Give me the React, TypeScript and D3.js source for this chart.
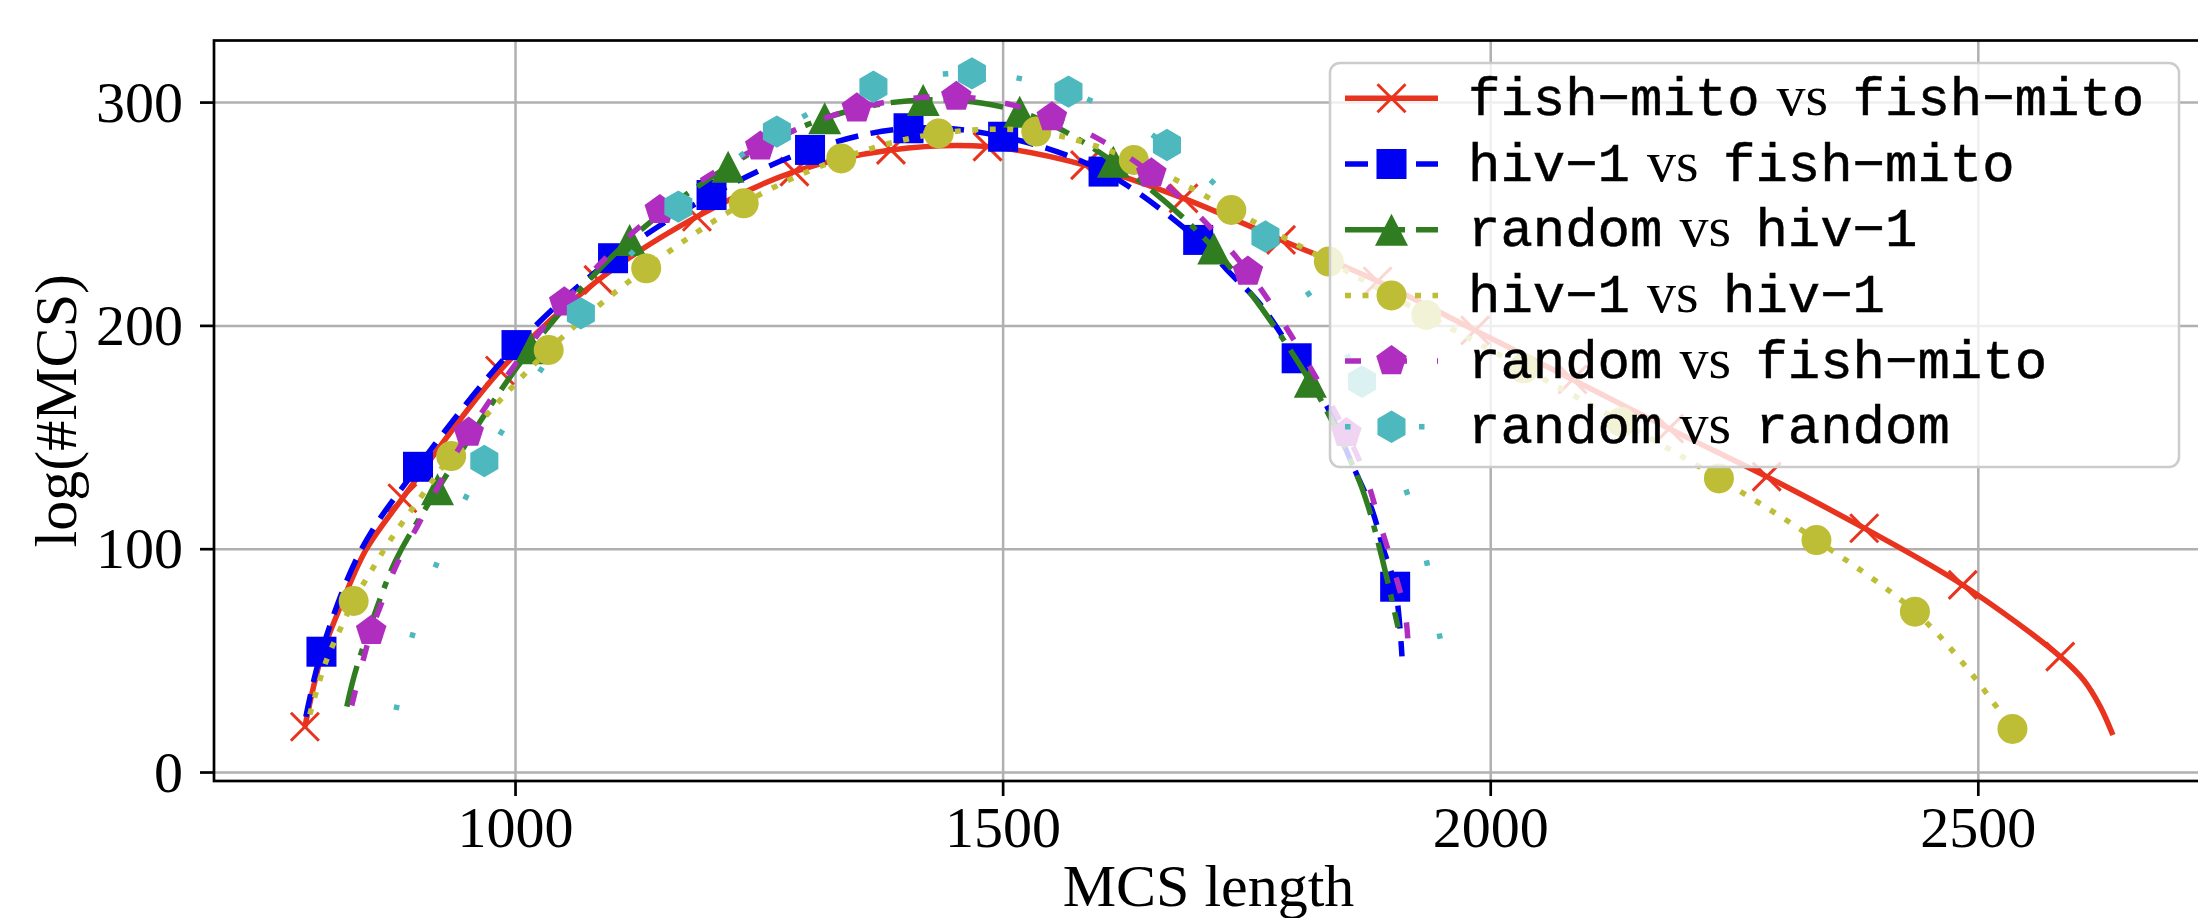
import React from 'react';
import * as d3 from 'd3';

const W = 2198;
const H = 918;

const xTicks = [1000, 1500, 2000, 2500];
const yTicks = [0, 100, 200, 300];

// fish-mito vs fish-mito
const fmfmMarkX = [784, 884, 984, 1085, 1186, 1286, 1385, 1484, 1584, 1685, 1785, 1884, 1984, 2084, 2183, 2283, 2383, 2484, 2584];
const fmfmMarkY = [20.5, 122.8, 180, 220.6, 248.9, 269.1, 278.8, 280.3, 272, 257.1, 238.5, 220, 198, 176, 154, 132.5, 109.4, 84, 51.9];
const fmfmLineX = [801, 823, 847, 2608, 2625, 2638];
const fmfmLineY = [52, 77, 100, 41.4, 29.5, 16.8];

// hiv-1 vs fish-mito
const hvfmMarkX = [801, 900, 1001, 1100, 1201, 1302, 1403, 1500, 1603, 1700, 1801, 1902];
const hvfmMarkY = [54.1, 136.9, 191.4, 230.3, 258.6, 278.8, 288.5, 284.7, 269.1, 238.5, 185.5, 83.2];
const hvfmLineX = [785, 842, 1733, 1763, 1832, 1858, 1878, 1890, 1909];
const hvfmLineY = [25, 100, 223.5, 210, 164, 138, 118, 100, 52];

// random vs hiv-1
const rvhvMarkX = [920, 1016, 1117, 1218, 1317, 1418, 1517, 1613, 1716, 1815];
const rvhvMarkY = [126.8, 190, 238.5, 271.3, 293, 301.2, 295.9, 273.5, 234.7, 175];
const rvhvLineX = [827, 837, 871, 883, 1859, 1873, 1888, 1905];
const rvhvLineY = [29.5, 47, 89, 100, 137, 121, 97, 65];

// hiv-1 vs hiv-1
const hvhvMarkX = [834, 934, 1034, 1134, 1234, 1334, 1434, 1534, 1634, 1734, 1834, 1934, 2034, 2134, 2234, 2334, 2435, 2535];
const hvhvMarkY = [76.8, 141.7, 189.2, 225.8, 254.9, 275, 286.2, 287, 274.3, 251.9, 228.8, 204.9, 181, 157, 131.7, 104.1, 72, 19.5];
const hvhvLineX = [789, 805, 820, 853, 873, 904, 2488];
const hvhvLineY = [26, 49, 64, 91, 105, 124, 47];

// random vs fish-mito
const rvfmMarkX = [852, 952, 1050, 1148, 1251, 1350, 1452, 1550, 1652, 1751, 1852];
const rvfmMarkY = [63.4, 152.2, 210.5, 251.9, 280.3, 297.4, 302.6, 293.4, 268.3, 224.3, 152];
const rvfmLineX = [832, 861, 878, 899, 1873, 1886, 1900, 1912, 1915];
const rvfmLineY = [30, 74, 93, 110, 131, 112, 92, 72, 60];

// random vs random
const rvrvMarkX = [968, 1067, 1167, 1268, 1367, 1468, 1567, 1668, 1769, 1868];
const rvrvMarkY = [139.5, 205.6, 253.4, 287, 307.1, 313.1, 304.9, 281, 240, 175];
const rvrvLineX = [877.5, 893.6, 917.5, 947.5, 1910, 1932, 1945, 1950];
const rvrvLineY = [28, 60.4, 91.7, 121.7, 130.5, 99, 67, 56];

const legendNames = [
  ['fish−mito', 'fish−mito'],
  ['hiv−1', 'fish−mito'],
  ['random', 'hiv−1'],
  ['hiv−1', 'hiv−1'],
  ['random', 'fish−mito'],
  ['random', 'random'],
];

type Marker = 'x' | 's' | '^' | 'o' | 'p' | 'h';

const series = [
  { color: '#e8331f', dash: undefined, marker: 'x', mx: fmfmMarkX, my: fmfmMarkY, lx: fmfmLineX, ly: fmfmLineY },
  { color: '#0000f2', dash: '23 12.5', marker: 's', mx: hvfmMarkX, my: hvfmMarkY, lx: hvfmLineX, ly: hvfmLineY },
  { color: '#2f7d20', dash: '42 11 7 11', marker: '^', mx: rvhvMarkX, my: rvhvMarkY, lx: rvhvLineX, ly: rvhvLineY },
  { color: '#bdbd36', dash: '6 11.5', marker: 'o', mx: hvhvMarkX, my: hvhvMarkY, lx: hvhvLineX, ly: hvhvLineY },
  { color: '#b02ebf', dash: '16 30', marker: 'p', mx: rvfmMarkX, my: rvfmMarkY, lx: rvfmLineX, ly: rvfmLineY },
  { color: '#4db8bd', dash: '5.5 68.5', marker: 'h', mx: rvrvMarkX, my: rvrvMarkY, lx: rvrvLineX, ly: rvrvLineY },
];

const polygon = (n: number, r: number) => {
  const pts = d3.range(n).map(k => {
    const a = -Math.PI / 2 + (2 * Math.PI * k) / n;
    return `${(r * Math.cos(a)).toFixed(2)},${(r * Math.sin(a)).toFixed(2)}`;
  });
  return 'M' + pts.join('L') + 'Z';
};

const MarkerShape = ({ m, cx, cy, color }: { m: Marker; cx: number; cy: number; color: string }) => {
  const t = `translate(${cx},${cy})`;
  if (m === 'x') {
    return <path transform={t} d="M-14,-14L14,14M-14,14L14,-14" stroke={color} strokeWidth={3} fill="none" />;
  }
  if (m === 's') return <rect x={cx - 15} y={cy - 15} width={30} height={30} fill={color} />;
  if (m === 'o') return <circle cx={cx} cy={cy} r={15} fill={color} />;
  if (m === '^') return <path transform={t} d="M0,-16L16.5,16L-16.5,16Z" fill={color} />;
  if (m === 'p') return <path transform={t} d={polygon(5, 16.1)} fill={color} />;
  return <path transform={t} d={polygon(6, 16.2)} fill={color} />;
};

const App = () => {
  const x = d3.scaleLinear().domain([690.8, 2730.4]).range([214, 2203]);
  const y = d3.scaleLinear().domain([-3.8, 327.8]).range([781, 40.5]);

  const line = d3.line<[number, number]>()
    .x(d => x(d[0]))
    .y(d => y(d[1]))
    .curve(d3.curveCatmullRom.alpha(0.5));

  const serif = '"Liberation Serif", "DejaVu Serif", serif';
  const mono = '"Liberation Mono", "DejaVu Sans Mono", monospace';
  const lw = 5.5;

  // legend geometry
  const lgX = 1330, lgY = 63, lgW = 849, lgH = 404;
  const rowY = (i: number) => 98.3 + 65.7 * i;
  const charW = 32.4;
  const textX = 1468;

  return (
    <svg width={W} height={H} style={{ position: 'absolute', left: 0, top: 0, background: '#fff' }}>
      <rect width={W} height={H} fill="#fff" />

      {/* grid */}
      {xTicks.map(t => (
        <line key={'gx' + t} x1={x(t)} x2={x(t)} y1={40.5} y2={781} stroke="#b0b0b0" strokeWidth={2.5} />
      ))}
      {yTicks.map(t => (
        <line key={'gy' + t} x1={214} x2={2203} y1={y(t)} y2={y(t)} stroke="#b0b0b0" strokeWidth={2.5} />
      ))}

      {/* series */}
      {series.map((s, i) => {
        const pts: [number, number][] = s.mx.map((v, k) => [v, s.my[k]] as [number, number])
          .concat(s.lx.map((v, k) => [v, s.ly[k]] as [number, number]))
          .sort((a, b) => a[0] - b[0]);
        return (
          <g key={'s' + i}>
            <path d={line(pts) || ''} fill="none" stroke={s.color} strokeWidth={lw}
              strokeDasharray={s.dash} strokeLinejoin="round" />
            {s.mx.map((v, k) => (
              <MarkerShape key={k} m={s.marker as Marker} cx={x(v)} cy={y(s.my[k])} color={s.color} />
            ))}
          </g>
        );
      })}

      {/* spines */}
      <rect x={214} y={40.5} width={2203 - 214} height={781 - 40.5} fill="none" stroke="#000" strokeWidth={2.7} />

      {/* ticks */}
      {xTicks.map(t => (
        <g key={'tx' + t}>
          <line x1={x(t)} x2={x(t)} y1={781} y2={796} stroke="#000" strokeWidth={2.7} />
          <text x={x(t)} y={847} textAnchor="middle" fontFamily={serif} fontSize={58} fill="#000">{t}</text>
        </g>
      ))}
      {yTicks.map(t => (
        <g key={'ty' + t}>
          <line x1={200} x2={214} y1={y(t)} y2={y(t)} stroke="#000" strokeWidth={2.7} />
          <text x={183} y={y(t) + 19} textAnchor="end" fontFamily={serif} fontSize={58} fill="#000">{t}</text>
        </g>
      ))}

      {/* axis labels */}
      <text x={1208.5} y={906} textAnchor="middle" fontFamily={serif} fontSize={60} fill="#000">MCS length</text>
      <text transform="translate(76,410.7) rotate(-90)" textAnchor="middle" fontFamily={serif} fontSize={60} fill="#000">log(#MCS)</text>

      {/* legend */}
      <rect x={lgX} y={lgY} width={lgW} height={lgH} rx={10} fill="#fff" fillOpacity={0.8} stroke="#cccccc" strokeWidth={2.5} />
      {series.map((s, i) => {
        const cy = rowY(i);
        const [a, b] = legendNames[i];
        const w1 = a.length * charW;
        return (
          <g key={'lg' + i}>
            <line x1={1345} x2={1438} y1={cy} y2={cy} stroke={s.color} strokeWidth={lw} strokeDasharray={s.dash} />
            <MarkerShape m={s.marker as Marker} cx={1391.5} cy={cy} color={s.color} />
            <text x={textX} y={cy + 16.5} fontFamily={mono} fontSize={54} fill="#000" stroke="#000" strokeWidth={0.5}>{a}</text>
            <text x={textX + w1 + 17} y={cy + 16.5} fontFamily={serif} fontSize={58} fill="#000">vs</text>
            <text x={textX + w1 + 93} y={cy + 16.5} fontFamily={mono} fontSize={54} fill="#000" stroke="#000" strokeWidth={0.5}>{b}</text>
          </g>
        );
      })}
    </svg>
  );
};

export default App;
